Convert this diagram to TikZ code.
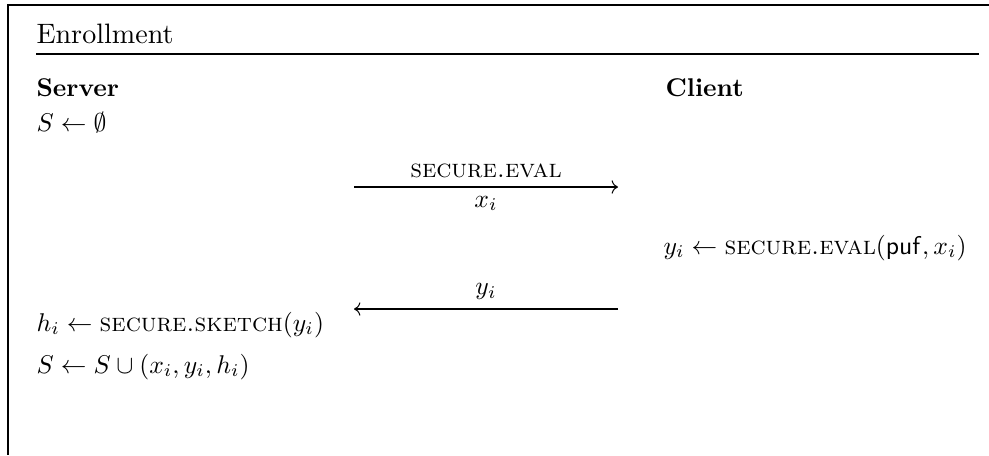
\documentclass[tikz,border=0pt]{standalone}
\usepackage{amsmath}
\usepackage{amssymb}
\usepackage{tikz}
\usetikzlibrary{arrows.meta, positioning}
\newcommand{\headsize}{\fontsize{10.95pt}{13.6pt}\selectfont}
\tikzset{
  phasehead/.style={anchor=base west, inner sep=0pt, font=\headsize},
  party/.style={anchor=base west, inner sep=0pt, font=\bfseries},
  stmt/.style={anchor=base west, inner sep=0pt},
  msg/.style={->}
}
\newcommand{\secop}[1]{\textsc{secure.#1}}

\begin{document}
\begin{tikzpicture}[x=0.39pt, y=-0.39pt]
\useasboundingbox (0,0) rectangle (989,455);
% frame and heading rule
\draw (989,5) -- (8,5) -- (8,455);
\node (phase)  [phasehead] at (36,43)  {Enrollment};
\draw (36,54) -- (979,54);

\node (server) [party] at (36,96)  {Server};
\node (client) [party] at (665,96) {Client};

\node (init)   [stmt]  at (36,131) {$S \leftarrow \emptyset$};

\coordinate (qfrom) at (354,187);
\coordinate (qto)   at (618,187);
\draw [msg] (qfrom) -- node[above] (qop) {\secop{eval}} node[below] (qarg) {$x_i$} (qto);

\node (eval)   [stmt]  at (663,254) {$y_i \leftarrow \text{\secop{eval}}(\mathsf{puf}, x_i)$};

\coordinate (rfrom) at (618,309);
\coordinate (rto)   at (354,309);
\draw [msg] (rfrom) -- node[above] (rval) {$y_i$} (rto);

\node (sketch) [stmt]  at (36,331) {$h_i \leftarrow \text{\secop{sketch}}(y_i)$};
\node (store)  [stmt]  at (36,373) {$S \leftarrow S \cup (x_i, y_i, h_i)$};
\end{tikzpicture}
\end{document}
